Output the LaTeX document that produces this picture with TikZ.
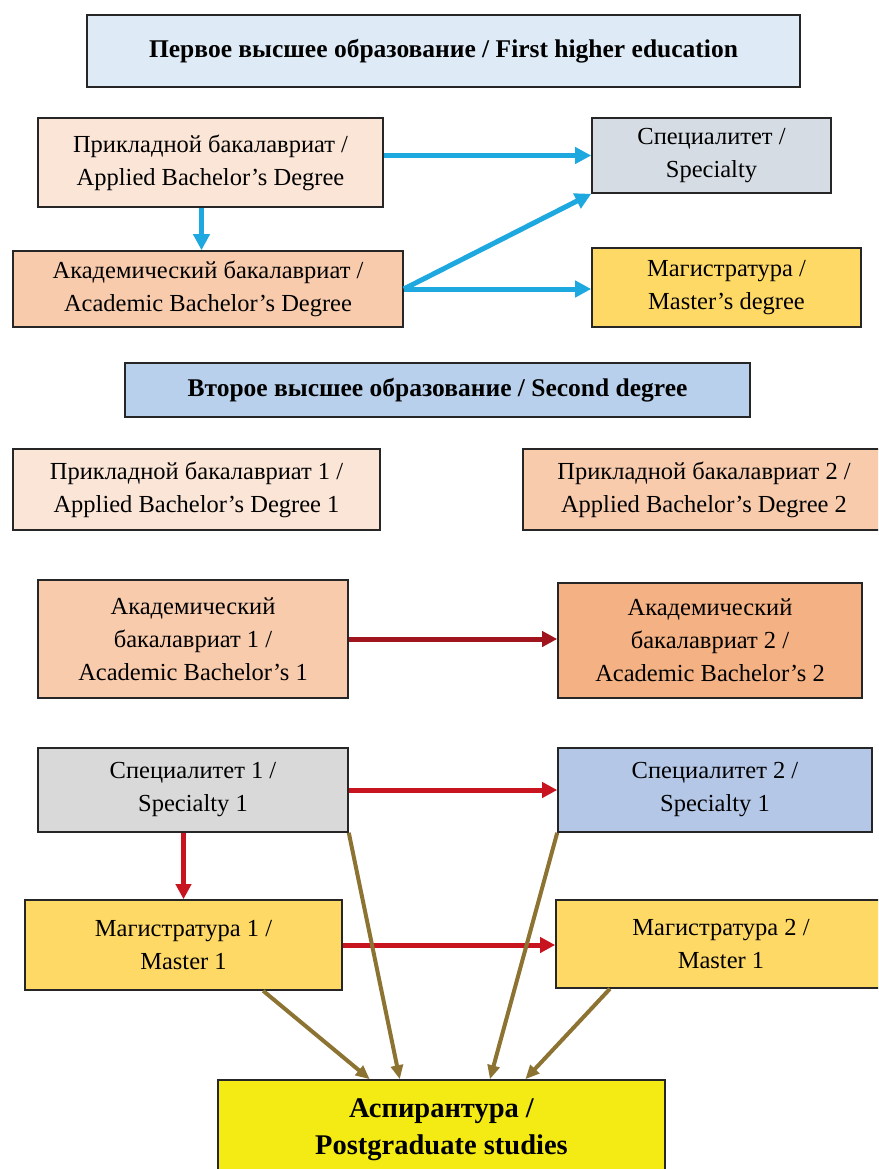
\documentclass[tikz,border=0pt]{standalone}
\usepackage{fontspec}
\setmainfont{Liberation Serif}
\usetikzlibrary{arrows.meta,calc}
\definecolor{hdrone}{RGB}{222,235,247}
\definecolor{hdrtwo}{RGB}{184,208,236}
\definecolor{peachL}{RGB}{251,229,214}
\definecolor{peachM}{RGB}{248,203,173}
\definecolor{peachD}{RGB}{244,177,131}
\definecolor{grayblue}{RGB}{214,220,228}
\definecolor{grayL}{RGB}{217,217,217}
\definecolor{blueM}{RGB}{180,199,231}
\definecolor{gold}{RGB}{255,217,102}
\definecolor{yel}{RGB}{245,235,20}
\definecolor{arrblue}{RGB}{30,168,224}
\definecolor{arrdred}{RGB}{160,20,30}
\definecolor{arrred}{RGB}{200,20,30}
\definecolor{arrolive}{RGB}{140,115,50}
\tikzset{
  box/.style={draw=black!85, line width=1.6pt, align=center, inner sep=2pt,
    font=\fontsize{24.5}{33}\selectfont},
  hdr/.style={box, font=\bfseries\fontsize{25.5}{33}\selectfont},
  pgbox/.style={box, font=\bfseries\fontsize{28.5}{37}\selectfont},
  barrow/.style={draw=arrblue, line width=5pt, -{Triangle[length=16pt,width=16pt]}},
  drarrow/.style={draw=arrdred, line width=5pt, -{Triangle[length=15pt,width=15pt]}},
  rarrow/.style={draw=arrred, line width=5pt, -{Triangle[length=15pt,width=15pt]}},
  oarrow/.style={draw=arrolive, line width=4pt, -{Triangle[length=14pt,width=12pt]}},
}
\begin{document}
\begin{tikzpicture}[x=1pt,y=-1pt]
\useasboundingbox (0,0) rectangle (878,1169);
\clip (0,0) rectangle (878,1169);
\fill[white] (0,0) rectangle (878,1169);
% first section
\node[hdr, fill=hdrone, minimum width=713pt, minimum height=72pt] (h1) at (443.5,51) {Первое высшее образование / First higher education};
\node[box, fill=peachL, minimum width=345pt, minimum height=89pt] (A) at (210.5,162.5) {Прикладной бакалавриат /\\Applied Bachelor’s Degree};
\node[box, fill=grayblue, minimum width=239pt, minimum height=75pt] (Sp) at (711.5,155.5) {Специалитет /\\Specialty};
\node[box, fill=peachM, minimum width=390pt, minimum height=76pt] (Ac) at (208,289) {Академический бакалавриат /\\Academic Bachelor’s Degree};
\node[box, fill=gold, minimum width=269pt, minimum height=79pt] (Mg) at (726.5,287.5) {Магистратура /\\Master’s degree};
\draw[barrow] (Sp.west -| A.east) -- (Sp.west);
\draw[barrow] ([xshift=-9pt]A.south) -- ([xshift=-9pt]A.south |- Ac.north);
\draw[barrow] (Ac.east) -- (Sp.south west);
\draw[barrow] (Ac.east) -- (Ac.east -| Mg.west);
% second section
\node[hdr, fill=hdrtwo, minimum width=625pt, minimum height=54pt] (h2) at (437.5,390) {Второе высшее образование / Second degree};
\node[box, fill=peachL, minimum width=367pt, minimum height=81pt] (P1) at (196.5,489.5) {Прикладной бакалавриат 1 /\\Applied Bachelor’s Degree 1};
\node[box, fill=peachM, minimum width=362pt, minimum height=81pt] (P2) at (704,489.5) {Прикладной бакалавриат 2 /\\Applied Bachelor’s Degree 2};
\node[box, fill=peachM, minimum width=310pt, minimum height=118pt] (AB1) at (193,639) {Академический\\бакалавриат 1 /\\Academic Bachelor’s 1};
\node[box, fill=peachD, minimum width=304pt, minimum height=115pt] (AB2) at (710,640.5) {Академический\\бакалавриат 2 /\\Academic Bachelor’s 2};
\node[box, fill=grayL, minimum width=310pt, minimum height=84pt] (S1) at (193,790) {Специалитет 1 /\\Specialty 1};
\node[box, fill=blueM, minimum width=314pt, minimum height=84pt] (S2) at (715,790) {Специалитет 2 /\\Specialty 1};
\node[box, fill=gold, minimum width=317pt, minimum height=90pt] (M1) at (183.5,945) {Магистратура 1 /\\Master 1};
\node[box, fill=gold, minimum width=330pt, minimum height=88pt] (M2) at (721,944) {Магистратура 2 /\\Master 1};
\node[pgbox, fill=yel, minimum width=447pt, minimum height=100pt] (PG) at (441.5,1130) {Аспирантура /\\Postgraduate studies};
\draw[drarrow] (AB1.east) -- (AB1.east -| AB2.west);
\draw[rarrow] (S1.east) -- (S1.east -| S2.west);
\draw[rarrow] (M1.north |- S1.south) -- (M1.north);
\draw[rarrow] (M1.east) -- (M1.east -| M2.west);
\draw[oarrow] ($(M1.south)!0.5!(M1.south east)$) -- ($(PG.north west)!0.34!(PG.north east)$);
\draw[oarrow] (S1.south east) -- ($(PG.north west)!0.407!(PG.north east)$);
\draw[oarrow] (S2.south west) -- ($(PG.north west)!0.608!(PG.north east)$);
\draw[oarrow] ($(M2.south west)!0.33!(M2.south)$) -- ($(PG.north west)!0.687!(PG.north east)$);
\end{tikzpicture}
\end{document}
